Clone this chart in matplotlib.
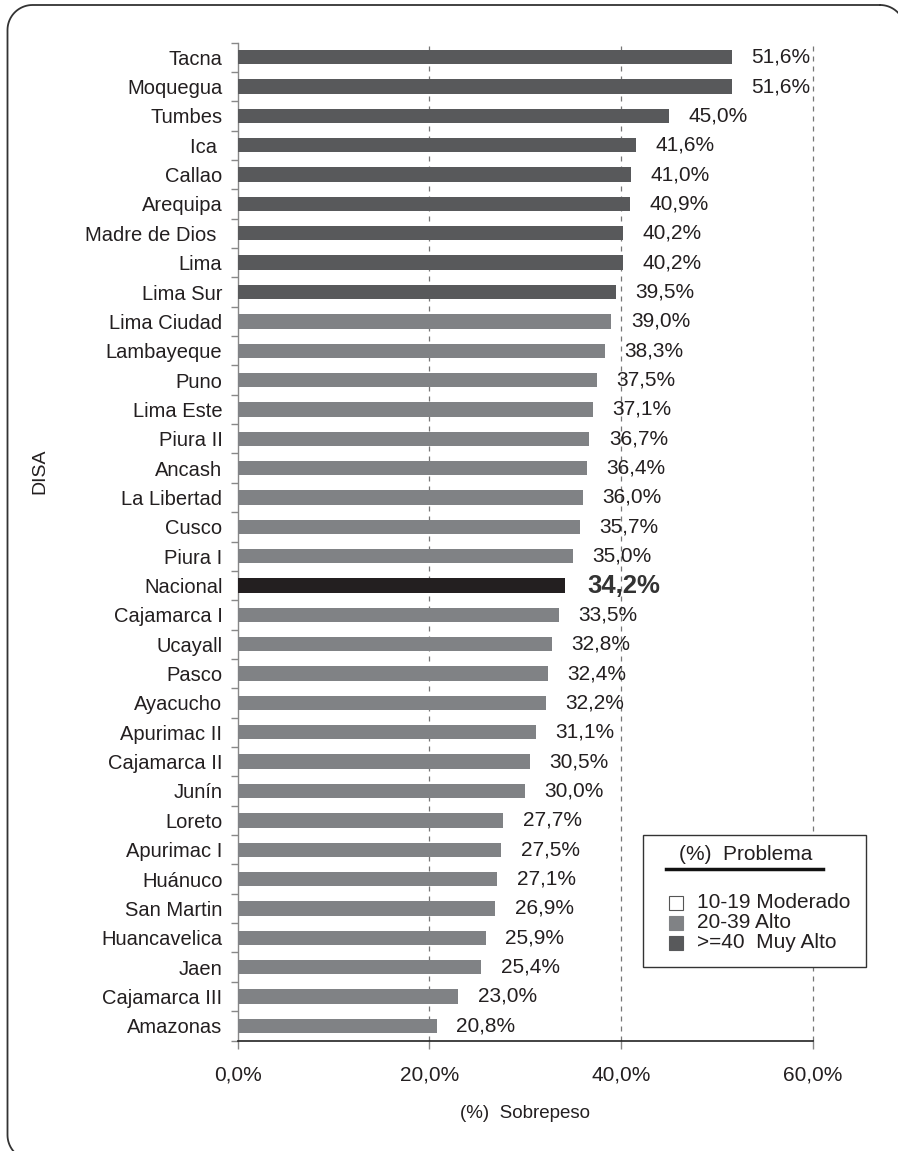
import matplotlib
matplotlib.use("Agg")
import numpy as np
import matplotlib.pyplot as plt
from matplotlib.patches import Rectangle
from matplotlib.lines import Line2D

plt.rcParams['font.family'] = ['Liberation Sans', 'DejaVu Sans']

categories = ["Tacna", "Moquegua", "Tumbes", "Ica ", "Callao", "Arequipa", "Madre de Dios ",
              "Lima", "Lima Sur", "Lima Ciudad", "Lambayeque", "Puno", "Lima Este", "Piura II",
              "Ancash", "La Libertad", "Cusco", "Piura I", "Nacional", "Cajamarca I", "Ucayall",
              "Pasco", "Ayacucho", "Apurimac II", "Cajamarca II", "Junín", "Loreto", "Apurimac I",
              "Huánuco", "San Martin", "Huancavelica", "Jaen", "Cajamarca III", "Amazonas"]
values = [51.6, 51.6, 45.0, 41.6, 41.0, 40.9, 40.2, 40.2, 39.5, 39.0, 38.3, 37.5, 37.1, 36.7,
          36.4, 36.0, 35.7, 35.0, 34.2, 33.5, 32.8, 32.4, 32.2, 31.1, 30.5, 30.0, 27.7, 27.5,
          27.1, 26.9, 25.9, 25.4, 23.0, 20.8]
groups = ["muy"] * 9 + ["alto"] * 9 + ["nac"] + ["alto"] * 15
xticks = [0, 20, 40, 60]
xtick_labels = ["0,0%", "20,0%", "40,0%", "60,0%"]
legend_labels = ["10-19 Moderado", "20-39 Alto", ">=40  Muy Alto"]

colors = {"muy": "#58595b", "alto": "#808285", "nac": "#231f20"}
TXT = "#231f20"

W, H = 898, 1151
fig = plt.figure(figsize=(W / 100, H / 100), dpi=100)

def fx(px):
    return px / W

def fy(py):
    return 1 - py / H

# rounded border (figure pixel coordinates, y downward)
def rounded_border(left, top, right, bottom, r):
    pts = []
    corners = [(right - r, top + r, -90, 0), (right - r, bottom - r, 0, 90),
               (left + r, bottom - r, 90, 180), (left + r, top + r, 180, 270)]
    for cx, cy, a0, a1 in corners:
        for a in np.linspace(np.radians(a0), np.radians(a1), 20):
            pts.append((cx + r * np.cos(a), cy + r * np.sin(a)))
    pts.append(pts[0])
    xs = [fx(p[0]) for p in pts]
    ys = [fy(p[1]) for p in pts]
    return Line2D(xs, ys, transform=fig.transFigure, color="#333333", linewidth=1.3)

fig.add_artist(rounded_border(7.5, 5, 905, 1160, 25))

x0, x1 = 237.7, 812.7
ytop, ybot = 42.5, 1040.5
ax = fig.add_axes([fx(x0), fy(ybot), fx(x1) - fx(x0), fy(ytop) - fy(ybot)])

n = len(categories)
ypos = list(range(n))
bar_colors = [colors[g] for g in groups]
ax.barh(ypos, values, height=0.49, color=bar_colors, zorder=3)
ax.set_ylim(n - 0.5, -0.5)
ax.set_xlim(0, 60)

for i, (v, g) in enumerate(zip(values, groups)):
    lab = f"{v:.1f}%".replace(".", ",")
    if g == "nac":
        ax.annotate(lab, (v, i), xytext=(15.5, 0), textcoords="offset points",
                    va="center", ha="left", fontsize=18.5, fontweight="bold", color="#333333", zorder=4)
    else:
        ax.annotate(lab, (v, i), xytext=(14, 0), textcoords="offset points",
                    va="center", ha="left", fontsize=15, color=TXT, zorder=4)

# grid
for xv in xticks[1:]:
    ax.axvline(xv, color="#777777", linestyle=(0, (4, 4)), linewidth=0.9, zorder=1, clip_on=False)

ax.set_yticks(ypos)
ax.set_yticklabels(categories, fontsize=14.5, color=TXT)
ax.set_yticks([i + 0.5 for i in range(-1, n)], minor=True)
ax.tick_params(axis="y", which="major", length=0, pad=11)
ax.tick_params(axis="y", which="minor", length=5, color="#888888", width=1)

ax.set_xticks(xticks)
ax.set_xticklabels(xtick_labels, fontsize=15, color=TXT)
ax.tick_params(axis="x", which="major", length=6, color="#888888", width=1, pad=12)

for s in ["top", "right"]:
    ax.spines[s].set_visible(False)
ax.spines["left"].set_color("#888888")
ax.spines["left"].set_linewidth(1)
ax.spines["bottom"].set_color("#222222")
ax.spines["bottom"].set_linewidth(1.2)
ax.spines["bottom"].set_zorder(5)

fig.text(fx(40), fy(471), "DISA", rotation=90, ha="center", va="center", fontsize=14, color=TXT)
fig.text(fx(525), fy(1114), "(%)  Sobrepeso", ha="center", va="center", fontsize=13.5, color=TXT)

# legend drawn manually
lx0, lx1, ly0, ly1 = 643, 866, 835, 967
fig.add_artist(Rectangle((fx(lx0), fy(ly1)), fx(lx1) - fx(lx0), fy(ly0) - fy(ly1),
                         transform=fig.transFigure, facecolor="white", edgecolor="#333333",
                         linewidth=1.0, zorder=10))
fig.text(fx(746), fy(855), "(%)  Problema", ha="center", va="center", fontsize=15,
         color=TXT, zorder=11)
fig.add_artist(Line2D([fx(666), fx(823)], [fy(869), fy(869)], transform=fig.transFigure,
                      color="#111111", linewidth=2.5, zorder=11))
leg_colors = ["white", "#808285", "#58595b"]
leg_y = [903, 923, 943]
for lab, c, yy in zip(legend_labels, leg_colors, leg_y):
    fig.add_artist(Rectangle((fx(669), fy(yy + 7)), fx(683) - fx(669), fy(yy - 7) - fy(yy + 7),
                             transform=fig.transFigure, facecolor=c,
                             edgecolor="#555555" if c == "white" else c, linewidth=0.8, zorder=11))
    fig.text(fx(697), fy(yy), lab, ha="left", va="center", fontsize=15, color=TXT, zorder=11)

fig.savefig("out.png", dpi=100)
